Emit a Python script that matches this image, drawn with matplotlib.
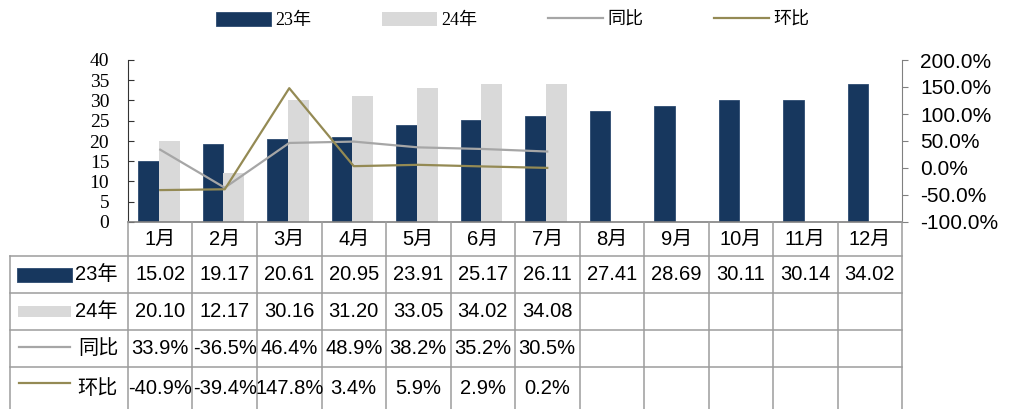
import numpy as np
import matplotlib
matplotlib.use("Agg")
import matplotlib.pyplot as plt
from matplotlib.patches import Patch, Rectangle
from matplotlib.lines import Line2D
from matplotlib.ticker import FuncFormatter, MultipleLocator

# -------------------------------
# Data
# -------------------------------
months = ['1月', '2月', '3月', '4月', '5月', '6月', '7月', '8月', '9月', '10月', '11月', '12月']
sales_23 = [15.02, 19.17, 20.61, 20.95, 23.91, 25.17, 26.11, 27.41, 28.69, 30.11, 30.14, 34.02]
sales_24 = [20.10, 12.17, 30.16, 31.20, 33.05, 34.02, 34.08]
yoy = [33.9, -36.5, 46.4, 48.9, 38.2, 35.2, 30.5]     # 同比, %
mom = [-40.9, -39.4, 147.8, 3.4, 5.9, 2.9, 0.2]       # 环比, %
series_names = ['23年', '24年', '同比', '环比']

NAVY = '#17375E'
LIGHT = '#D9D9D9'
GREY_LINE = '#A6A6A6'
OLIVE = '#948A54'
GRID = '#9C9C9C'

SANS = ['Liberation Sans', 'Noto Sans CJK SC']
SERIF = ['Liberation Serif', 'Noto Sans CJK SC']

# -------------------------------
# Layout (pixels)
# -------------------------------
W, H = 1017, 409
L, R, T, B = 128, 902, 60, 222
TAB_L = 10
col_px = (R - L) / 12.0

fig = plt.figure(figsize=(W / 100, H / 100), dpi=100)

ax = fig.add_axes([L / W, 1 - B / H, (R - L) / W, (B - T) / H])
x23 = np.arange(len(sales_23))
x24 = np.arange(len(sales_24))
bw = 0.32
ax.bar(x23 - 0.18, sales_23, bw, color=NAVY, edgecolor='#2c4a70', linewidth=0.6)
ax.bar(x24 + 0.14, sales_24, bw, color=LIGHT, linewidth=0)
ax.set_xlim(-0.5, 11.5)
ax.set_ylim(0, 40)
ax.yaxis.set_major_locator(MultipleLocator(5))
ax.set_xticks([])
ax.spines['top'].set_visible(False)
ax.spines['right'].set_visible(False)
ax.spines['left'].set_color('#333333')
ax.spines['bottom'].set_color('#808080')
ax.spines['bottom'].set_linewidth(1.2)
ax.tick_params(axis='y', direction='in', length=4, pad=13.5, colors='#333333',
               labelcolor='black', labelsize=14)
for lab in ax.get_yticklabels():
    lab.set_fontfamily(SERIF)

ax2 = ax.twinx()
ax2.plot(x24, yoy, color=GREY_LINE, lw=1.6)
ax2.plot(x24, mom, color=OLIVE, lw=1.6)
ax2.set_ylim(-100, 200)
ax2.yaxis.set_major_locator(MultipleLocator(50))
ax2.yaxis.set_major_formatter(FuncFormatter(lambda v, p: f'{v:.1f}%'))
for s in ['top', 'left', 'bottom']:
    ax2.spines[s].set_visible(False)
ax2.spines['right'].set_color('#808080')
ax2.tick_params(axis='y', direction='out', length=4, pad=9, colors='#808080',
                labelcolor='black', labelsize=15)
for lab in ax2.get_yticklabels():
    lab.set_fontfamily(SANS)

# -------------------------------
# Legend
# -------------------------------
handles = [Patch(facecolor=NAVY, edgecolor='#2c4a70', linewidth=0.6),
           Patch(facecolor=LIGHT, linewidth=0),
           Line2D([], [], color=GREY_LINE, lw=1.6),
           Line2D([], [], color=OLIVE, lw=1.6)]
leg = fig.legend(handles, series_names, loc='center left',
                 bbox_to_anchor=(216 / W, 1 - 20 / H), ncol=4, frameon=False,
                 fontsize=13, handlelength=3.05, handleheight=0.83,
                 handletextpad=0.25, columnspacing=3.9, borderpad=0, borderaxespad=0)
for i, t in enumerate(leg.get_texts()):
    t.set_fontfamily(SERIF if i < 2 else ['Noto Sans CJK SC'])

# -------------------------------
# Data table under the chart
# -------------------------------
tax = fig.add_axes([TAB_L / W, 0, (R - TAB_L) / W, (H - B) / H])
lab_w = (L - TAB_L) / col_px
tax.set_xlim(-0.5 - lab_w, 11.5)
tax.set_ylim(H - B, 0)
tax.axis('off')

row_edges = [0, 34, 71, 108, 145, 189]
centers = [(a + b) / 2 for a, b in zip(row_edges[:-1], row_edges[1:])]
left_x = -0.5 - lab_w

for k in range(13):
    tax.plot([k - 0.5, k - 0.5], [0, row_edges[-1]], color=GRID, lw=1.1, clip_on=False)
tax.plot([left_x, left_x], [row_edges[1], row_edges[-1]], color=GRID, lw=1.1, clip_on=False)
for y in row_edges[1:-1]:
    tax.plot([left_x, 11.5], [y, y], color=GRID, lw=1.1, clip_on=False)

for i, m in enumerate(months):
    tax.text(i, centers[0], m, ha='center', va='center', fontsize=14.5, family=SANS)

rows = [[f'{v:.2f}' for v in sales_23],
        [f'{v:.2f}' for v in sales_24],
        [f'{v:.1f}%' for v in yoy],
        [f'{v:.1f}%' for v in mom]]
for r, vals in enumerate(rows):
    yc = centers[r + 1]
    for i, s in enumerate(vals):
        tax.text(i, yc, s, ha='center', va='center', fontsize=14.5, family=SANS)
    tax.text(-0.5 - 10 / col_px, yc, series_names[r], ha='right', va='center',
             fontsize=14.5, family=SANS)

# legend keys inside the table
def px2x(px):
    return (px - L) / col_px - 0.5

tax.add_patch(Rectangle((px2x(17), centers[1] - 7), px2x(72) - px2x(17), 14,
                        facecolor=NAVY, edgecolor='#2c4a70', lw=0.6, joinstyle='round'))
tax.add_patch(Rectangle((px2x(18), centers[2] - 6), px2x(71) - px2x(18), 11,
                        facecolor=LIGHT, lw=0))
tax.plot([px2x(19), px2x(70)], [centers[3] - 2, centers[3] - 2], color=GREY_LINE, lw=1.6)
tax.plot([px2x(19), px2x(70)], [centers[4] - 6, centers[4] - 6], color=OLIVE, lw=1.6)

fig.savefig('out.png', dpi=100)
